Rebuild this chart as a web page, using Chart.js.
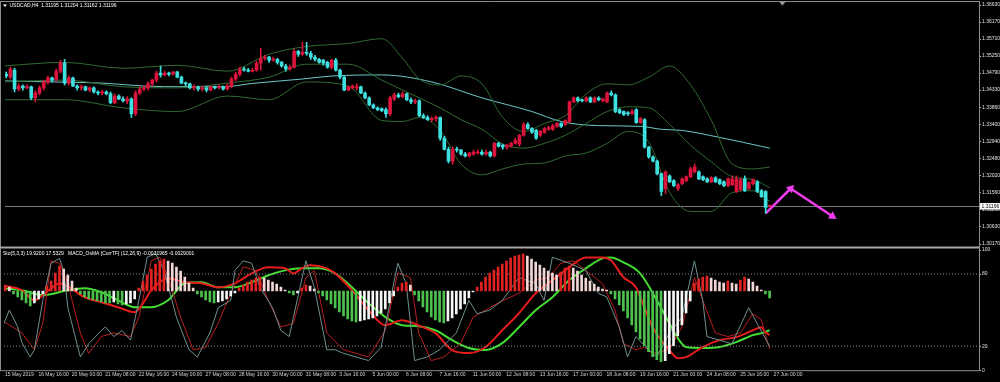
<!DOCTYPE html>
<html>
<head>
<meta charset="utf-8">
<title>USDCAD,H4</title>
<script src="https://cdn.jsdelivr.net/npm/chart.js@4.4.1/dist/chart.umd.min.js"></script>
<style>
  html, body { margin: 0; padding: 0; background: #000; }
  #wrap { position: relative; width: 1000px; height: 382px; background: #000; overflow: hidden; }
  canvas { position: absolute; left: 0; }
  #priceChart { top: 0; }
  #oscChart { top: 246px; }
</style>
</head>
<body>
<div id="wrap">
  <canvas id="priceChart" width="1000" height="249"></canvas>
  <canvas id="oscChart" width="1000" height="136"></canvas>
</div>
<script>
// values (USDCAD H4, 15 May - 27 Jun 2019)
const symbolLine = "USDCAD,H4  1.31195 1.31204 1.31162 1.31196";
const oscLine = "Sto(5,3,3) 19.9200 17.5329   MACD_OsMA [CurrTF] (12,26,9) -0.0031965 -0.0029001";

const priceTicks = [1.36630, 1.36170, 1.35710, 1.35250, 1.34790, 1.34330, 1.33860, 1.33400,
                    1.32940, 1.32480, 1.32020, 1.31560, 1.31100, 1.30630, 1.30170];
const stoTicks = [0, 20, 80, 100];
const stoLevels = [80, 20];
const timeLabels = ['15 May 2019', '16 May 16:00', '20 May 00:00', '21 May 08:00', '22 May 16:00',
  '24 May 00:00', '27 May 08:00', '28 May 16:00', '30 May 00:00', '31 May 08:00', '3 Jun 16:00',
  '5 Jun 00:00', '6 Jun 08:00', '7 Jun 16:00', '11 Jun 00:00', '12 Jun 08:00', '13 Jun 16:00',
  '17 Jun 00:00', '18 Jun 08:00', '19 Jun 16:00', '21 Jun 00:00', '24 Jun 08:00', '25 Jun 16:00',
  '27 Jun 00:00'];
const barsPerLabel = 8;
const firstBar = 1; // candle arrays start at bar 1 (bar 0 = 15 May 08:00 sits off the left edge)

const openP = [
  1.3476,1.3468,1.3487,1.3436,1.3444,1.3439,1.3442,1.3412,1.3425,1.3439,
  1.3455,1.3466,1.3460,1.3484,1.3506,1.3452,1.3466,1.3444,1.3439,1.3442,
  1.3433,1.3439,1.3428,1.3425,1.3428,1.3423,1.3399,1.3417,1.3409,1.3404,
  1.3409,1.3369,1.3425,1.3436,1.3439,1.3450,1.3460,1.3479,1.3474,1.3479,
  1.3476,1.3482,1.3468,1.3452,1.3450,1.3439,1.3442,1.3436,1.3439,1.3433,
  1.3442,1.3439,1.3442,1.3436,1.3444,1.3463,1.3476,1.3490,1.3487,1.3484,
  1.3487,1.3506,1.3519,1.3522,1.3514,1.3516,1.3508,1.3498,1.3490,1.3495,
  1.3538,1.3530,1.3535,1.3532,1.3522,1.3516,1.3514,1.3508,1.3495,1.3514,
  1.3487,1.3468,1.3433,1.3439,1.3439,1.3442,1.3425,1.3412,1.3393,1.3385,
  1.3383,1.3380,1.3369,1.3409,1.3420,1.3415,1.3423,1.3407,1.3401,1.3404,
  1.3364,1.3359,1.3353,1.3356,1.3359,1.3303,1.3273,1.3241,1.3273,1.3271,
  1.3260,1.3255,1.3260,1.3263,1.3265,1.3260,1.3265,1.3255,1.3289,1.3284,
  1.3279,1.3281,1.3289,1.3287,1.3311,1.3340,1.3329,1.3324,1.3311,1.3319,
  1.3327,1.3327,1.3335,1.3343,1.3340,1.3348,1.3401,1.3412,1.3407,1.3404,
  1.3412,1.3401,1.3412,1.3404,1.3401,1.3425,1.3420,1.3380,1.3375,1.3372,
  1.3369,1.3380,1.3345,1.3353,1.3279,1.3252,1.3241,1.3207,1.3167,1.3201,
  1.3188,1.3167,1.3180,1.3188,1.3199,1.3212,1.3212,1.3199,1.3193,1.3185,
  1.3196,1.3191,1.3185,1.3175,1.3177,1.3159,1.3164,1.3193,1.3167,1.3180,
  1.3185,1.3161,1.3159,1.31195];
const highP = [
  1.3482,1.3495,1.3492,1.3450,1.3447,1.3447,1.3444,1.3431,1.3444,1.3460,
  1.3471,1.3468,1.3490,1.3514,1.3516,1.3471,1.3468,1.3447,1.3447,1.3444,
  1.3442,1.3442,1.3431,1.3433,1.3431,1.3428,1.3423,1.3420,1.3415,1.3415,
  1.3412,1.3431,1.3442,1.3444,1.3455,1.3463,1.3484,1.3498,1.3484,1.3482,
  1.3484,1.3484,1.3471,1.3455,1.3452,1.3447,1.3444,1.3444,1.3442,1.3444,
  1.3444,1.3447,1.3444,1.3450,1.3468,1.3482,1.3495,1.3495,1.3492,1.3492,
  1.3511,1.3546,1.3527,1.3524,1.3522,1.3519,1.3511,1.3503,1.3500,1.3543,
  1.3540,1.3562,1.3562,1.3538,1.3527,1.3519,1.3516,1.3511,1.3516,1.3519,
  1.3490,1.3471,1.3444,1.3447,1.3450,1.3444,1.3428,1.3415,1.3396,1.3388,
  1.3385,1.3385,1.3417,1.3425,1.3425,1.3428,1.3425,1.3412,1.3409,1.3407,
  1.3369,1.3364,1.3361,1.3364,1.3361,1.3308,1.3279,1.3279,1.3279,1.3273,
  1.3265,1.3265,1.3271,1.3271,1.3271,1.3271,1.3268,1.3292,1.3292,1.3287,
  1.3287,1.3292,1.3303,1.3313,1.3345,1.3345,1.3332,1.3327,1.3324,1.3332,
  1.3335,1.3340,1.3345,1.3345,1.3353,1.3404,1.3415,1.3415,1.3409,1.3415,
  1.3415,1.3415,1.3415,1.3412,1.3428,1.3431,1.3423,1.3383,1.3377,1.3375,
  1.3380,1.3383,1.3359,1.3356,1.3281,1.3255,1.3244,1.3209,1.3215,1.3204,
  1.3191,1.3180,1.3196,1.3201,1.3225,1.3233,1.3215,1.3201,1.3196,1.3199,
  1.3199,1.3193,1.3188,1.3196,1.3201,1.3201,1.3196,1.3201,1.3185,1.3193,
  1.3188,1.3164,1.3161,1.31204];
const lowP = [
  1.3466,1.3463,1.3428,1.3431,1.3433,1.3436,1.3407,1.3401,1.3420,1.3433,
  1.3450,1.3455,1.3458,1.3479,1.3447,1.3447,1.3442,1.3433,1.3433,1.3431,
  1.3428,1.3425,1.3420,1.3420,1.3420,1.3396,1.3396,1.3407,1.3401,1.3396,
  1.3359,1.3364,1.3420,1.3431,1.3433,1.3444,1.3455,1.3468,1.3471,1.3471,
  1.3474,1.3466,1.3450,1.3444,1.3436,1.3433,1.3431,1.3431,1.3428,1.3431,
  1.3436,1.3436,1.3433,1.3433,1.3439,1.3458,1.3471,1.3484,1.3482,1.3482,
  1.3484,1.3487,1.3514,1.3508,1.3511,1.3503,1.3495,1.3484,1.3487,1.3492,
  1.3524,1.3527,1.3527,1.3516,1.3511,1.3506,1.3500,1.3492,1.3490,1.3484,
  1.3463,1.3431,1.3431,1.3436,1.3433,1.3423,1.3409,1.3391,1.3383,1.3377,
  1.3375,1.3359,1.3364,1.3404,1.3412,1.3412,1.3404,1.3396,1.3396,1.3361,
  1.3356,1.3351,1.3348,1.3348,1.3297,1.3271,1.3236,1.3233,1.3265,1.3257,
  1.3252,1.3252,1.3257,1.3260,1.3257,1.3257,1.3252,1.3252,1.3279,1.3273,
  1.3273,1.3279,1.3287,1.3281,1.3308,1.3327,1.3316,1.3300,1.3308,1.3316,
  1.3324,1.3324,1.3332,1.3332,1.3337,1.3345,1.3399,1.3401,1.3401,1.3401,
  1.3399,1.3399,1.3404,1.3401,1.3399,1.3417,1.3372,1.3369,1.3364,1.3364,
  1.3367,1.3343,1.3343,1.3276,1.3249,1.3239,1.3204,1.3148,1.3153,1.3183,
  1.3172,1.3161,1.3177,1.3185,1.3196,1.3209,1.3191,1.3188,1.3183,1.3183,
  1.3183,1.3177,1.3172,1.3172,1.3175,1.3156,1.3161,1.3159,1.3164,1.3177,
  1.3156,1.3143,1.3100,1.31162];
const closeP = [
  1.3471,1.3490,1.3436,1.3444,1.3439,1.3442,1.3412,1.3425,1.3439,1.3455,
  1.3466,1.3460,1.3484,1.3506,1.3452,1.3466,1.3444,1.3439,1.3442,1.3433,
  1.3439,1.3428,1.3425,1.3428,1.3423,1.3399,1.3417,1.3409,1.3404,1.3409,
  1.3369,1.3425,1.3436,1.3439,1.3450,1.3460,1.3479,1.3474,1.3479,1.3476,
  1.3482,1.3468,1.3452,1.3450,1.3439,1.3442,1.3436,1.3439,1.3433,1.3442,
  1.3439,1.3442,1.3436,1.3444,1.3463,1.3476,1.3490,1.3487,1.3484,1.3487,
  1.3506,1.3519,1.3522,1.3514,1.3516,1.3508,1.3498,1.3490,1.3495,1.3538,
  1.3530,1.3535,1.3532,1.3522,1.3516,1.3508,1.3506,1.3495,1.3514,1.3487,
  1.3468,1.3433,1.3442,1.3444,1.3442,1.3425,1.3412,1.3393,1.3385,1.3380,
  1.3377,1.3369,1.3412,1.3420,1.3415,1.3423,1.3407,1.3401,1.3404,1.3364,
  1.3359,1.3353,1.3356,1.3359,1.3303,1.3273,1.3241,1.3273,1.3271,1.3260,
  1.3255,1.3263,1.3265,1.3265,1.3260,1.3265,1.3255,1.3289,1.3281,1.3279,
  1.3284,1.3289,1.3297,1.3311,1.3340,1.3329,1.3319,1.3303,1.3321,1.3329,
  1.3332,1.3337,1.3343,1.3335,1.3351,1.3401,1.3412,1.3404,1.3404,1.3412,
  1.3401,1.3412,1.3407,1.3409,1.3425,1.3420,1.3375,1.3372,1.3367,1.3369,
  1.3375,1.3345,1.3356,1.3279,1.3252,1.3241,1.3207,1.3159,1.3212,1.3185,
  1.3175,1.3177,1.3193,1.3199,1.3220,1.3225,1.3193,1.3191,1.3185,1.3196,
  1.3185,1.3180,1.3175,1.3193,1.3193,1.3193,1.3191,1.3161,1.3183,1.3191,
  1.3159,1.3145,1.3116,1.31196];

// moving average + Bollinger bands (upper / middle / lower), sampled at bar indices
const maIdx = [0,12,24,34,44,53,60,72,79,91,103,115,127,134,143,153,158,163,172,182,184];
const maVal = [1.3458,1.3455,1.3452,1.3444,1.3442,1.3442,1.3451,1.3463,1.3471,1.3474,1.3455,
  1.3412,1.3375,1.3348,1.3337,1.3335,1.3327,1.3324,1.3305,1.3281,1.3276];
const bbIdx = [0,15,29,42,54,64,73,83,91,96,100,105,110,115,120,125,130,135,140,145,150,155,160,165,170,175,180,184];
const bbUp = [1.3498,1.3508,1.3492,1.3500,1.3484,1.3530,1.3551,1.3559,1.3572,1.3519,
  1.3463,1.3447,1.3471,1.3450,1.3359,1.3321,1.3343,1.3364,1.3423,1.3450,
  1.3447,1.3468,1.3498,1.3447,1.3351,1.3233,1.3220,1.3225];
const bbMid = [1.3455,1.3460,1.3442,1.3439,1.3452,1.3468,1.3503,1.3503,1.3460,1.3433,
  1.3412,1.3385,1.3353,1.3327,1.3287,1.3276,1.3289,1.3311,1.3343,1.3375,
  1.3388,1.3385,1.3340,1.3284,1.3239,1.3199,1.3191,1.3169];
const bbLow = [1.3407,1.3407,1.3385,1.3375,1.3417,1.3407,1.3455,1.3444,1.3351,1.3348,
  1.3359,1.3324,1.3233,1.3204,1.3220,1.3233,1.3236,1.3255,1.3263,1.3289,
  1.3321,1.3292,1.3156,1.3105,1.3105,1.3156,1.3161,1.3132];

// hand-drawn arrows
const arrowIdx = [183, 189, 199];
const arrowPrice = [1.3100, 1.3167, 1.3092];

// OsMA histogram (points), one per bar starting at bar 0
const osma = [
  20,24,16,-12,-24,-36,-48,-60,-48,-32, -12,20,40,72,100,88,64,40,12,-12,
  -24,-32,-36,-40,-44,-48,-48,-44,-52,-56, -52,-48,-32,12,40,64,88,108,120,128,
  120,112,96,80,56,32,12,-12,-24,-36, -44,-48,-44,-40,-32,-20,-8,12,24,36,
  44,52,56,52,44,36,28,16,4,-8, -16,-8,12,24,20,8,-8,-20,-36,-52,
  -68,-84,-100,-112,-120,-124,-120,-116,-112,-108, -100,-88,-72,-48,-20,16,32,36,24,-16,
  -40,-64,-84,-104,-116,-124,-128,-120,-108,-92, -72,-52,-28,-4,16,36,56,72,84,96,
  108,120,132,140,144,148,140,128,116,104, 92,80,72,64,76,92,100,92,80,64,
  52,40,28,16,8,4,-12,-32,-56,-80, -108,-136,-164,-192,-220,-244,-264,-276,-284,-280,
  -252,-220,-180,-136,-88,-40,32,48,56,60, 52,44,36,32,40,32,28,44,56,48,
  36,20,4,-12,-28];

// MACD main / signal (points)
const macdIdx = [0,5,8,10,12,14,20,24,28,32,34,36,40,44,48,52,56,60,64,68,70,72,74,78,80,84,88,92,96,98,
  101,104,108,112,116,120,124,128,132,136,140,144,146,149,152,154,156,160,162,164,168,172,176,180,182,183,184];
const macdMain = [-24,-53,-113,-83,-42,-12,-95,-125,-154,-184,-130,-53,18,-6,-12,-36,-12,47,83,77,
  47,77,95,77,47,-53,-172,-261,-231,-243,-273,-308,-409,-427,-391,-291,-190,-71,6,83,
  142,142,125,24,-36,-154,-273,-409,-457,-451,-391,-350,-332,-291,-273,-302,-319.65];
const sigIdx = [0,5,10,16,20,24,28,32,36,40,44,48,52,56,60,64,68,72,76,80,84,88,92,96,100,104,108,112,116,120,
  124,128,132,136,140,144,146,149,153,157,160,162,164,168,172,176,180,183,184];
const macdSignal = [-42,-53,-83,-53,-42,-65,-113,-154,-154,-113,-12,-6,-36,-36,-6,36,65,77,77,47,
  -36,-130,-213,-261,-267,-291,-350,-397,-409,-368,-273,-172,-95,6,77,136,142,113,47,-113,
  -249,-338,-391,-397,-391,-362,-320,-302,-290.01];

// Stochastic %K / %D
const stoMainIdx = [0,2,4,5,7,8,10,12,14,15,16,19,21,24,25,27,29,31,33,35,37,39,42,45,47,50,52,55,56,58,
  60,62,65,67,69,70,73,75,78,80,82,85,88,91,94,95,97,99,102,105,109,112,114,117,120,124,128,130,132,136,
  140,143,145,148,150,152,155,157,160,163,166,168,169,172,175,179,181,184];
const stoMain = [33,50,36,23,11,17,58,89,93,83,52,11,22,33,36,28,33,25,58,94,97,83,44,17,11,31,52,58,83,91,
  89,69,52,33,28,44,91,69,17,17,14,11,8,19,72,89,72,8,11,17,31,58,47,50,58,77,72,58,94,89,
  83,64,61,36,11,28,17,11,31,44,91,58,28,25,22,52,39,19.92];
const stoSigIdx = [0,5,8,10,12,14,16,19,21,24,27,31,33,36,38,40,43,46,49,52,55,58,61,64,67,70,73,75,78,82,
  85,88,92,95,98,100,103,106,110,113,116,119,124,128,131,134,137,140,144,147,149,152,154,156,160,163,
  166,168,171,174,177,180,182,184];
const stoSignal = [42,31,17,39,91,89,72,31,14,28,31,28,44,91,94,77,44,17,19,39,64,86,83,58,36,39,77,83,31,17,
  14,11,33,81,77,31,8,11,22,44,50,56,64,75,77,89,91,83,72,50,22,17,19,14,17,36,
  77,58,31,28,31,47,42,17.53];

// visible bar range: bar spacing is ~4.19px, bar 0 at x=-2
const xMin = 0.716, xMax = 234.13;

const UP = '#dc143c', DOWN = '#3fe0e0';
const FONT = {family: 'Liberation Sans, Arial, sans-serif', size: 5};

function pts(idx, vals) { return idx.map((x, k) => ({x: x, y: vals[k]})); }

const candleCol = openP.map((o, k) => closeP[k] >= o ? UP : DOWN);
const wickData = openP.map((o, k) => ({x: firstBar + k, y: [lowP[k], highP[k]]}));
const bodyData = openP.map((o, k) => ({x: firstBar + k, y: [o, closeP[k]]}));
const lastClose = closeP[closeP.length - 1];

const osmaCol = osma.map((v, k) => {
  const prev = k ? osma[k - 1] : v;
  if (v >= 0) return v >= prev ? '#e32222' : '#f3d6d6';
  return v <= prev ? '#4cc24c' : '#f6f6f6';
});

const lineStyle = {pointRadius: 0, borderWidth: 1, fill: false};

// ---------- price panel ----------
const topDeco = {
  id: 'topDeco',
  beforeDatasetsDraw(chart) {
    const {ctx, chartArea: a, scales} = chart;
    const py = Math.round(scales.y.getPixelForValue(lastClose)) + 0.5;
    ctx.save();
    ctx.strokeStyle = '#7a7a7a'; ctx.lineWidth = 1;
    ctx.beginPath(); ctx.moveTo(a.left, py); ctx.lineTo(a.right, py); ctx.stroke();
    ctx.restore();
  },
  afterDraw(chart) {
    const {ctx, chartArea: a, scales} = chart;
    ctx.save();
    ctx.strokeStyle = '#8c8c8c'; ctx.lineWidth = 1;
    ctx.beginPath();
    ctx.moveTo(0, 1.5); ctx.lineTo(a.right + 0.5, 1.5);
    ctx.moveTo(0.5, 1); ctx.lineTo(0.5, 249);
    ctx.moveTo(a.right + 0.5, 1); ctx.lineTo(a.right + 0.5, 249);
    ctx.stroke();
    ctx.strokeStyle = '#a6a6a6'; ctx.lineWidth = 2;
    ctx.beginPath(); ctx.moveTo(0, 247.5); ctx.lineTo(a.right, 247.5); ctx.stroke();
    // bid label box
    const py = scales.y.getPixelForValue(lastClose);
    ctx.fillStyle = '#ffffff';
    ctx.fillRect(a.right + 1, py - 3, 21, 6.5);
    ctx.fillStyle = '#000000';
    ctx.font = '5px "Liberation Sans"';
    ctx.textBaseline = 'middle'; ctx.textAlign = 'left';
    ctx.fillText(lastClose.toFixed(5), a.right + 2.5, py + 0.3);
    // header
    ctx.fillStyle = '#ffffff';
    ctx.beginPath(); ctx.moveTo(3, 4.5); ctx.lineTo(7, 4.5); ctx.lineTo(5, 7); ctx.closePath(); ctx.fill();
    ctx.fillText(symbolLine, 9.5, 6);
    // chart shift marker
    const sx = scales.x.getPixelForValue(closeP.length + firstBar + 2);
    ctx.fillStyle = '#9a9a9a';
    ctx.beginPath(); ctx.moveTo(sx - 3, 2); ctx.lineTo(sx + 3, 2); ctx.lineTo(sx, 5.5); ctx.closePath(); ctx.fill();
    ctx.restore();
  }
};

new Chart(document.getElementById('priceChart'), {
  type: 'bar',
  data: {
    datasets: [
      {type: 'bar', data: wickData, backgroundColor: candleCol, barThickness: 1, grouped: false, borderWidth: 0},
      {type: 'bar', data: bodyData, backgroundColor: candleCol, barThickness: 3, grouped: false, borderWidth: 0, minBarLength: 1},
      Object.assign({type: 'line', data: pts(bbIdx, bbUp), borderColor: '#2f6b2f', cubicInterpolationMode: 'monotone'}, lineStyle),
      Object.assign({type: 'line', data: pts(bbIdx, bbMid), borderColor: '#2f6b2f', cubicInterpolationMode: 'monotone'}, lineStyle),
      Object.assign({type: 'line', data: pts(bbIdx, bbLow), borderColor: '#2f6b2f', cubicInterpolationMode: 'monotone'}, lineStyle),
      Object.assign({type: 'line', data: pts(maIdx, maVal), borderColor: '#6cc8c8', cubicInterpolationMode: 'monotone'}, lineStyle),
      {type: 'line', data: pts(arrowIdx.slice(0, 2), arrowPrice.slice(0, 2)), borderColor: '#ee3cee', borderWidth: 2.5,
       pointStyle: 'triangle', pointRadius: [0, 5], pointRotation: [0, 45], pointBackgroundColor: '#ee3cee', pointBorderWidth: 0},
      {type: 'line', data: pts(arrowIdx.slice(1), arrowPrice.slice(1)), borderColor: '#ee3cee', borderWidth: 2.5,
       pointStyle: 'triangle', pointRadius: [0, 5], pointRotation: [0, 124], pointBackgroundColor: '#ee3cee', pointBorderWidth: 0}
    ]
  },
  options: {
    responsive: false, animation: false, events: [],
    layout: {padding: {left: 1, top: 4, bottom: 3, right: 0}},
    plugins: {legend: {display: false}, tooltip: {enabled: false}},
    scales: {
      x: {type: 'linear', display: false, min: xMin, max: xMax, offset: false, grid: {offset: false}},
      y: {
        position: 'right', min: 1.30170, max: 1.36630,
        afterFit: s => { s.width = 21; },
        afterBuildTicks: s => { s.ticks = priceTicks.map(v => ({value: v})); },
        ticks: {color: '#e2e2e2', font: FONT, padding: 1, callback: v => Number(v).toFixed(5)},
        grid: {drawOnChartArea: false, drawTicks: true, tickLength: 2, color: '#b4b4b4'},
        border: {display: false}
      }
    }
  },
  plugins: [topDeco]
});

// ---------- oscillator panel ----------
const botDeco = {
  id: 'botDeco',
  afterDraw(chart) {
    const {ctx, chartArea: a} = chart;
    ctx.save();
    ctx.strokeStyle = '#8c8c8c'; ctx.lineWidth = 1;
    ctx.beginPath();
    ctx.moveTo(0.5, 2); ctx.lineTo(0.5, a.bottom + 0.5);
    ctx.moveTo(0, a.bottom + 0.5); ctx.lineTo(a.right + 0.5, a.bottom + 0.5);
    ctx.moveTo(a.right + 0.5, 2); ctx.lineTo(a.right + 0.5, a.bottom + 0.5);
    ctx.stroke();
    ctx.fillStyle = '#ffffff';
    ctx.font = '5px "Liberation Sans"';
    ctx.textBaseline = 'middle'; ctx.textAlign = 'left';
    ctx.fillText(oscLine, 3, 7.3);
    ctx.restore();
  }
};

const levelSets = stoLevels.map(lv => Object.assign({
  type: 'line', yAxisID: 'y', data: [{x: xMin, y: lv}, {x: xMax, y: lv}],
  borderColor: '#8a8a8a', borderDash: [1, 2]}, lineStyle));

new Chart(document.getElementById('oscChart'), {
  type: 'bar',
  data: {
    datasets: [
      {type: 'bar', yAxisID: 'yH', data: osma.map((v, k) => ({x: k, y: v})), backgroundColor: osmaCol,
       barThickness: 2, grouped: false, borderWidth: 0},
      ...levelSets,
      Object.assign({type: 'line', yAxisID: 'y', data: pts(stoMainIdx, stoMain), borderColor: '#6f8f8f'}, lineStyle),
      Object.assign({type: 'line', yAxisID: 'y', data: pts(stoSigIdx, stoSignal), borderColor: '#b81e1e'}, lineStyle),
      Object.assign({type: 'line', yAxisID: 'yL', data: pts(macdIdx, macdMain), borderColor: '#e51c1c',
        cubicInterpolationMode: 'monotone'}, lineStyle, {borderWidth: 2}),
      Object.assign({type: 'line', yAxisID: 'yL', data: pts(sigIdx, macdSignal), borderColor: '#44dd33',
        cubicInterpolationMode: 'monotone'}, lineStyle, {borderWidth: 2})
    ]
  },
  options: {
    responsive: false, animation: false, events: [],
    layout: {padding: {left: 1, top: 3.6, bottom: 3.8, right: 0}},
    plugins: {legend: {display: false}, tooltip: {enabled: false}},
    scales: {
      x: {
        type: 'linear', min: xMin, max: xMax, offset: false,
        afterBuildTicks: s => { s.ticks = timeLabels.map((t, k) => ({value: k * barsPerLabel})); },
        ticks: {color: '#d4d4d4', font: FONT, padding: 1, align: 'start', labelOffset: 4,
                autoSkip: false, maxRotation: 0, minRotation: 0,
                callback: (v, i) => timeLabels[i]},
        grid: {display: false, drawTicks: false},
        border: {display: false}
      },
      y: {
        position: 'right', min: 0, max: 100,
        afterFit: s => { s.width = 21; },
        afterBuildTicks: s => { s.ticks = stoTicks.map(v => ({value: v})); },
        ticks: {color: '#e2e2e2', font: FONT, padding: 1, callback: v => String(v)},
        grid: {drawOnChartArea: false, drawTicks: true, tickLength: 2, color: '#b4b4b4'},
        border: {display: false}
      },
      yH: {display: false, min: -318, max: 164.4},
      yL: {display: false, min: -528.8, max: 186.1}
    }
  },
  plugins: [botDeco]
});
</script>
</body>
</html>
